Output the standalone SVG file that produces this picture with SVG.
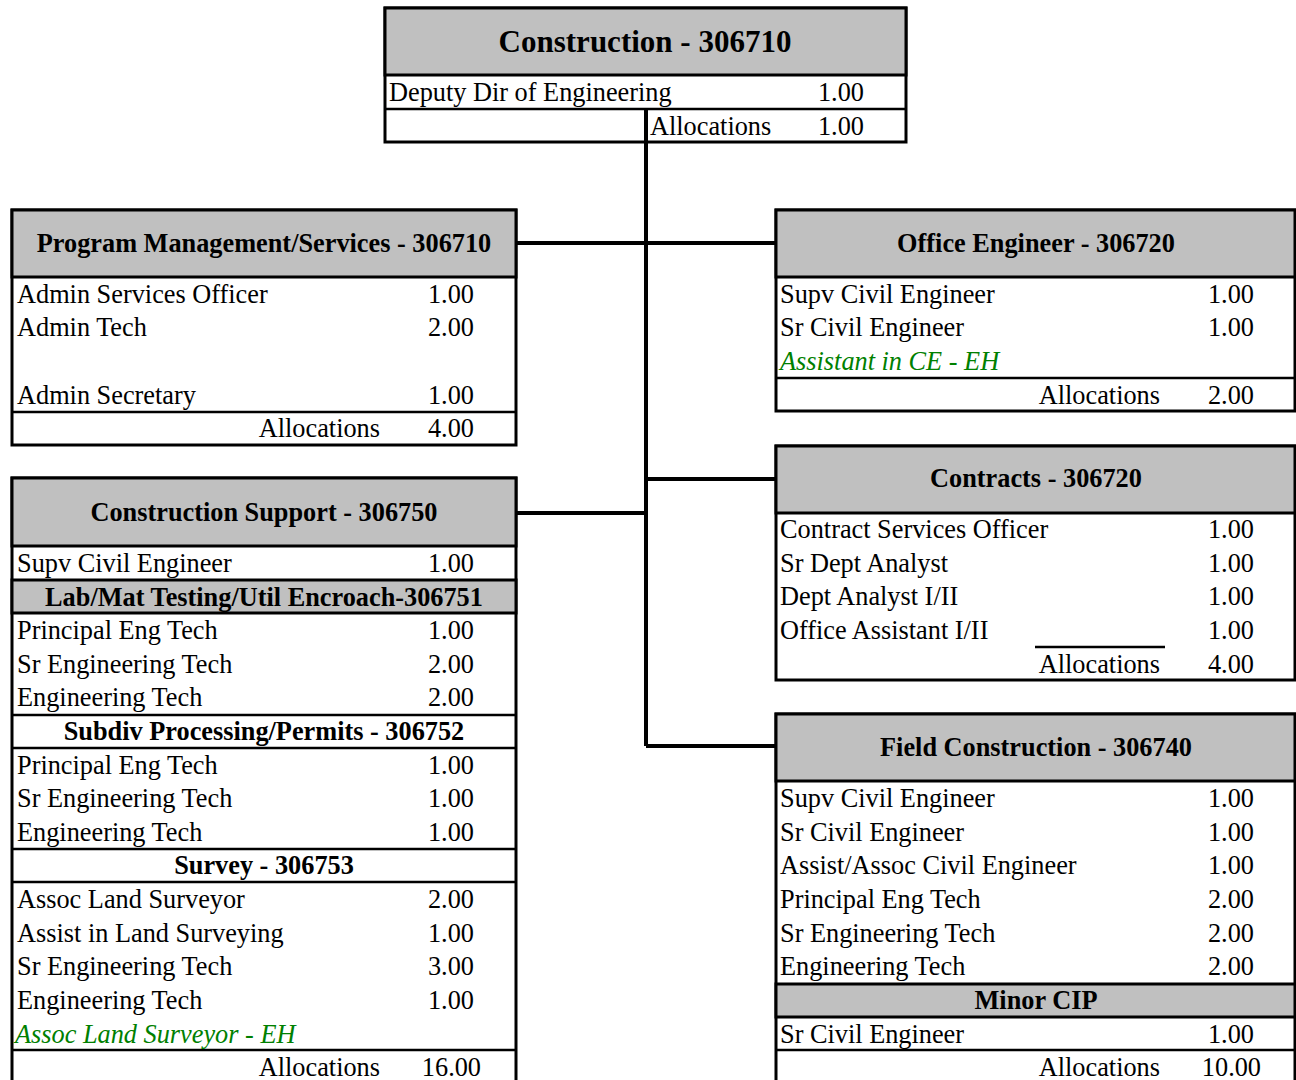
<svg xmlns="http://www.w3.org/2000/svg" width="1296" height="1080" viewBox="0 0 1296 1080">
<style>
text{font-family:'Liberation Serif','Times New Roman',Times,serif;font-size:26.3px;fill:#000}
.h{font-weight:bold;text-anchor:middle}
.t{font-weight:bold;font-size:31px;text-anchor:middle}
.n{text-anchor:end}
.g{fill:#008000;font-style:italic}
.box{fill:#fff;stroke:#000;stroke-width:3}
.hd{fill:#c0c0c0;stroke:#000;stroke-width:3}
.sep{stroke:#000;stroke-width:2.5;fill:none}
.con{stroke:#000;stroke-width:4;fill:none}
</style>
<rect width="1296" height="1080" fill="#fff"/>
<g id="construction">
<rect class="box" x="385" y="8" width="521" height="134"/>
<rect class="hd" x="385" y="8" width="521" height="67"/>
<line class="sep" x1="385" y1="109" x2="906" y2="109"/>
<text class="t" x="645" y="52">Construction - 306710</text>
<text x="389" y="101">Deputy Dir of Engineering</text>
<text class="n" x="864" y="101">1.00</text>
<text x="650" y="135">Allocations</text>
<text class="n" x="864" y="135">1.00</text>
</g>
<g id="program-management">
<rect class="box" x="12" y="210" width="504" height="235"/>
<rect class="hd" x="12" y="210" width="504" height="67"/>
<line class="sep" x1="12" y1="412" x2="516" y2="412"/>
<text class="h" x="264" y="252">Program Management/Services - 306710</text>
<text x="17" y="303">Admin Services Officer</text><text class="n" x="474" y="303">1.00</text>
<text x="17" y="336">Admin Tech</text><text class="n" x="474" y="336">2.00</text>
<text x="17" y="404">Admin Secretary</text><text class="n" x="474" y="404">1.00</text>
<text class="n" x="380" y="437">Allocations</text><text class="n" x="474" y="437">4.00</text>
</g>
<g id="office-engineer">
<rect class="box" x="776" y="210" width="519" height="201"/>
<rect class="hd" x="776" y="210" width="519" height="67"/>
<line class="sep" x1="776" y1="378" x2="1295" y2="378"/>
<text class="h" x="1036" y="252">Office Engineer - 306720</text>
<text x="780" y="303">Supv Civil Engineer</text><text class="n" x="1254" y="303">1.00</text>
<text x="780" y="336">Sr Civil Engineer</text><text class="n" x="1254" y="336">1.00</text>
<text class="g" x="780" y="370">Assistant in CE - EH</text>
<text class="n" x="1160" y="404">Allocations</text><text class="n" x="1254" y="404">2.00</text>
</g>
<g id="contracts">
<rect class="box" x="776" y="446" width="519" height="234"/>
<rect class="hd" x="776" y="446" width="519" height="67"/>
<line class="sep" x1="1035" y1="647" x2="1165" y2="647"/>
<text class="h" x="1036" y="487">Contracts - 306720</text>
<text x="780" y="538">Contract Services Officer</text><text class="n" x="1254" y="538">1.00</text>
<text x="780" y="572">Sr Dept Analyst</text><text class="n" x="1254" y="572">1.00</text>
<text x="780" y="605">Dept Analyst I/II</text><text class="n" x="1254" y="605">1.00</text>
<text x="780" y="639">Office Assistant I/II</text><text class="n" x="1254" y="639">1.00</text>
<text class="n" x="1160" y="673">Allocations</text><text class="n" x="1254" y="673">4.00</text>
</g>
<g id="construction-support">
<rect class="box" x="12" y="478" width="504" height="610"/>
<rect class="hd" x="12" y="478" width="504" height="68"/>
<rect class="hd" x="12" y="580" width="504" height="33"/>
<line class="sep" x1="12" y1="715" x2="516" y2="715"/>
<line class="sep" x1="12" y1="748" x2="516" y2="748"/>
<line class="sep" x1="12" y1="849" x2="516" y2="849"/>
<line class="sep" x1="12" y1="882" x2="516" y2="882"/>
<line class="sep" x1="12" y1="1050" x2="516" y2="1050"/>
<text class="h" x="264" y="521">Construction Support - 306750</text>
<text x="17" y="572">Supv Civil Engineer</text><text class="n" x="474" y="572">1.00</text>
<text class="h" x="264" y="606">Lab/Mat Testing/Util Encroach-306751</text>
<text x="17" y="639">Principal Eng Tech</text><text class="n" x="474" y="639">1.00</text>
<text x="17" y="673">Sr Engineering Tech</text><text class="n" x="474" y="673">2.00</text>
<text x="17" y="706">Engineering Tech</text><text class="n" x="474" y="706">2.00</text>
<text class="h" x="264" y="740">Subdiv Processing/Permits - 306752</text>
<text x="17" y="774">Principal Eng Tech</text><text class="n" x="474" y="774">1.00</text>
<text x="17" y="807">Sr Engineering Tech</text><text class="n" x="474" y="807">1.00</text>
<text x="17" y="841">Engineering Tech</text><text class="n" x="474" y="841">1.00</text>
<text class="h" x="264" y="874">Survey - 306753</text>
<text x="17" y="908">Assoc Land Surveyor</text><text class="n" x="474" y="908">2.00</text>
<text x="17" y="942">Assist in Land Surveying</text><text class="n" x="474" y="942">1.00</text>
<text x="17" y="975">Sr Engineering Tech</text><text class="n" x="474" y="975">3.00</text>
<text x="17" y="1009">Engineering Tech</text><text class="n" x="474" y="1009">1.00</text>
<text class="g" x="15" y="1043">Assoc Land Surveyor - EH</text>
<text class="n" x="380" y="1076">Allocations</text><text class="n" x="481" y="1076">16.00</text>
</g>
<g id="field-construction">
<rect class="box" x="776" y="714" width="519" height="374"/>
<rect class="hd" x="776" y="714" width="519" height="67"/>
<rect class="hd" x="776" y="984" width="519" height="33"/>
<line class="sep" x1="776" y1="1050" x2="1295" y2="1050"/>
<text class="h" x="1036" y="756">Field Construction - 306740</text>
<text x="780" y="807">Supv Civil Engineer</text><text class="n" x="1254" y="807">1.00</text>
<text x="780" y="841">Sr Civil Engineer</text><text class="n" x="1254" y="841">1.00</text>
<text x="780" y="874">Assist/Assoc Civil Engineer</text><text class="n" x="1254" y="874">1.00</text>
<text x="780" y="908">Principal Eng Tech</text><text class="n" x="1254" y="908">2.00</text>
<text x="780" y="942">Sr Engineering Tech</text><text class="n" x="1254" y="942">2.00</text>
<text x="780" y="975">Engineering Tech</text><text class="n" x="1254" y="975">2.00</text>
<text class="h" x="1036" y="1009">Minor CIP</text>
<text x="780" y="1043">Sr Civil Engineer</text><text class="n" x="1254" y="1043">1.00</text>
<text class="n" x="1160" y="1076">Allocations</text><text class="n" x="1261" y="1076">10.00</text>
</g>
<g id="connectors">
<line class="con" x1="646" y1="109" x2="646" y2="746"/>
<line class="con" x1="516" y1="243" x2="776" y2="243"/>
<line class="con" x1="516" y1="513" x2="646" y2="513"/>
<line class="con" x1="646" y1="479" x2="776" y2="479"/>
<line class="con" x1="646" y1="746" x2="776" y2="746"/>
</g>
</svg>
